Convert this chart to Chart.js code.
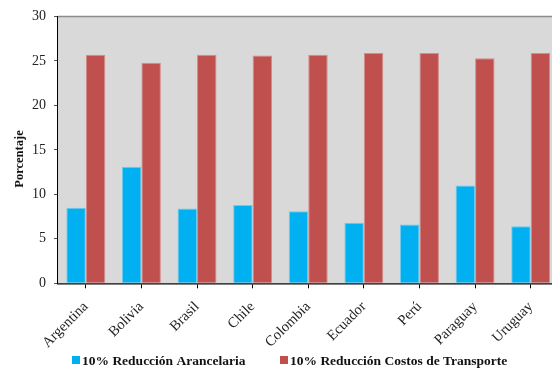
<!DOCTYPE html>
<html>
<head>
<meta charset="utf-8">
<script src="https://cdn.jsdelivr.net/npm/chart.js@4.4.1/dist/chart.umd.min.js"></script>
<style>
  html, body { margin: 0; padding: 0; background: #fff; overflow: hidden; }
  #wrap { width: 560px; height: 370px; }
</style>
</head>
<body>
<div id="wrap"><canvas id="c" width="560" height="370"></canvas></div>
<script>
const categories = ['Argentina', 'Bolivia', 'Brasil', 'Chile', 'Colombia', 'Ecuador', 'Perú', 'Paraguay', 'Uruguay'];
const reduccionArancelaria = [8.5, 13.1, 8.4, 8.8, 8.1, 6.8, 6.6, 11.0, 6.4];
const reduccionTransporte = [25.7, 24.8, 25.7, 25.6, 25.7, 25.9, 25.9, 25.3, 25.9];
const yTicks = [0, 5, 10, 15, 20, 25, 30];
const seriesNames = ['10% Reducción Arancelaria', '10% Reducción Costos de Transporte'];
const yTitle = 'Porcentaje';

const SERIF = '"Liberation Serif", "Times New Roman", serif';

// Gray plot background and top frame line
const plotFrame = {
  id: 'plotFrame',
  beforeDatasetsDraw(chart) {
    const { ctx, chartArea: a } = chart;
    ctx.save();
    ctx.fillStyle = '#D9D9D9';
    ctx.fillRect(a.left, a.top, a.right - a.left, a.bottom - a.top);
    ctx.strokeStyle = '#8C8C8C';
    ctx.lineWidth = 1.5;
    ctx.beginPath();
    ctx.moveTo(a.left, a.top);
    ctx.lineTo(a.right, a.top);
    ctx.stroke();
    ctx.restore();
  }
};

// Vertical axis title
const axisTitle = {
  id: 'axisTitle',
  afterDraw(chart) {
    const { ctx } = chart;
    ctx.save();
    ctx.translate(20, 159);
    ctx.rotate(-Math.PI / 2);
    ctx.font = 'bold 12.5px ' + SERIF;
    ctx.fillStyle = '#111';
    ctx.textAlign = 'center';
    ctx.textBaseline = 'middle';
    ctx.fillText(yTitle, 0, 0);
    ctx.restore();
  }
};

// Bottom legend with square swatches
const bottomLegend = {
  id: 'bottomLegend',
  afterDraw(chart) {
    const { ctx } = chart;
    const xs = [72, 280];
    ctx.save();
    ctx.font = 'bold 13.5px ' + SERIF;
    ctx.textBaseline = 'alphabetic';
    chart.data.datasets.forEach((ds, i) => {
      ctx.fillStyle = ds.backgroundColor;
      ctx.fillRect(xs[i], 356, 8, 8);
      ctx.fillStyle = '#111';
      ctx.fillText(ds.label, xs[i] + 10, 365);
    });
    ctx.restore();
  }
};

new Chart(document.getElementById('c'), {
  type: 'bar',
  data: {
    labels: categories,
    datasets: [
      {
        label: seriesNames[0],
        data: reduccionArancelaria,
        backgroundColor: '#00B0F0',
        borderColor: '#6CCBEF',
        borderWidth: 1,
        categoryPercentage: 0.7,
        barPercentage: 1.0
      },
      {
        label: seriesNames[1],
        data: reduccionTransporte,
        backgroundColor: '#C0504D',
        borderColor: '#D38C8A',
        borderWidth: 1,
        categoryPercentage: 0.7,
        barPercentage: 1.0
      }
    ]
  },
  options: {
    responsive: false,
    animation: false,
    layout: { padding: { top: 15.7, right: 1.5, bottom: 0, left: 0 } },
    plugins: {
      legend: { display: false },
      tooltip: { enabled: false }
    },
    scales: {
      x: {
        grid: { display: true, drawOnChartArea: false, offset: false, tickLength: 5, color: '#000' },
        border: { color: '#000', width: 1.5 },
        ticks: {
          minRotation: 45,
          maxRotation: 45,
          padding: 10,
          color: '#222',
          font: { family: SERIF, size: 14.5 }
        },
        afterFit(scale) { scale.height = 86.7; }
      },
      y: {
        min: 0,
        max: 30,
        afterBuildTicks(scale) { scale.ticks = yTicks.map(v => ({ value: v })); },
        grid: { display: true, drawOnChartArea: false, tickLength: 4, color: '#555' },
        border: { color: '#000', width: 1.5 },
        ticks: {
          padding: 8,
          color: '#222',
          font: { family: SERIF, size: 14 }
        },
        afterFit(scale) { scale.width = 58; }
      }
    }
  },
  plugins: [plotFrame, axisTitle, bottomLegend]
});
</script>
</body>
</html>
